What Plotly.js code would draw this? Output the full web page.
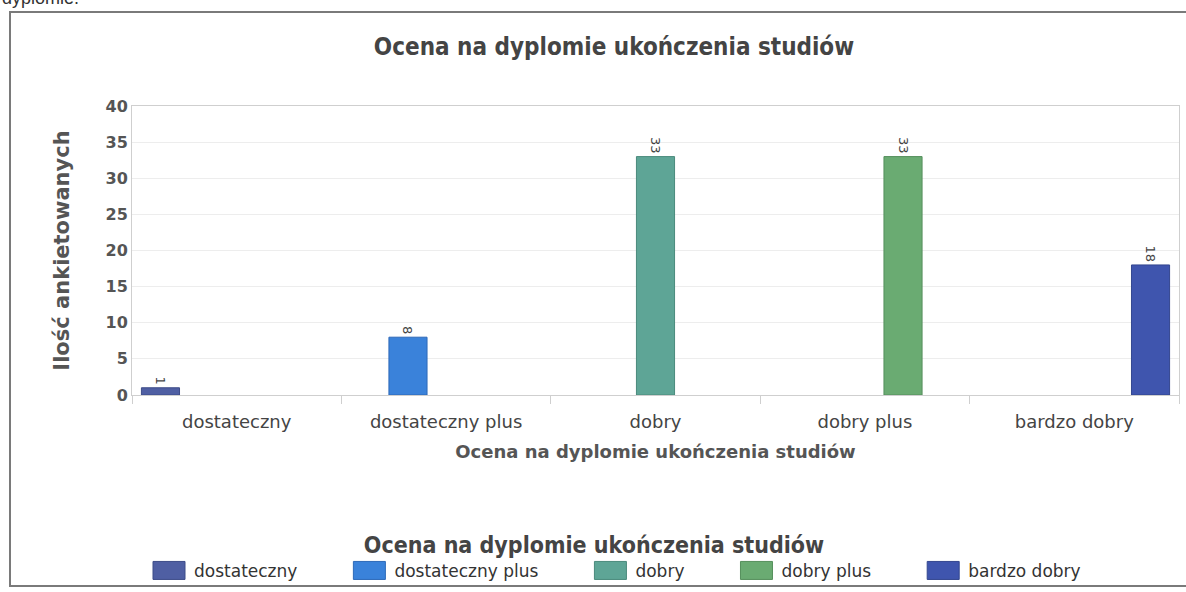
<!DOCTYPE html>
<html>
<head>
<meta charset="utf-8">
<script src="https://cdn.plot.ly/plotly-3.0.1.min.js"></script>
<style>
html,body{margin:0;padding:0;background:#fff;}
#chart{width:1186px;height:592px;}
</style>
</head>
<body>
<div id="chart"></div>
<script>
var categories = ["dostateczny", "dostateczny plus", "dobry", "dobry plus", "bardzo dobry"];
var seriesNames = ["dostateczny", "dostateczny plus", "dobry", "dobry plus", "bardzo dobry"];
var values = [1, 8, 33, 33, 18];
var colors = ["#4f5fa3", "#3a82da", "#5ea596", "#6aab72", "#3f55ae"];
var lineColors = ["#3d4c88", "#2d69b8", "#4a8a7c", "#558f5c", "#33468f"];
var chartTitle = "Ocena na dyplomie ukończenia studiów";
var xTitle = "Ocena na dyplomie ukończenia studiów";
var yTitle = "Ilość ankietowanych";
var legendTitle = "Ocena na dyplomie ukończenia studiów";
var yTicks = [0, 5, 10, 15, 20, 25, 30, 35, 40];

var W = 1186, H = 592;
var mL = 132, mR = 7, mT = 106, mB = 197;
var pw = W - mL - mR, ph = H - mT - mB;
function px(x){ return (x - mL) / pw; }
function py(y){ return (H - mB - y) / ph; }

var traces = seriesNames.map(function(name, i){
  return {
    type: "bar",
    name: name,
    x: categories,
    y: categories.map(function(c, j){ return j === i ? values[i] : null; }),
    text: categories.map(function(c, j){ return j === i ? String(values[i]) : ""; }),
    textposition: "outside",
    textangle: 90,
    textfont: {family: "DejaVu Sans", size: 13, color: "#444"},
    cliponaxis: false,
    marker: {color: colors[i], line: {color: lineColors[i], width: 1}},
    hoverinfo: "x+y+name"
  };
});

var layout = {
  width: W, height: H,
  margin: {l: mL, r: mR, t: mT, b: mB, autoexpand: false},
  paper_bgcolor: "#fff",
  plot_bgcolor: "#fff",
  barmode: "group",
  bargap: 0.09,
  bargroupgap: 0,
  title: {
    text: chartTitle,
    font: {family: "Liberation Sans Narrow, DejaVu Sans Condensed, Arial", size: 24, color: "#444", weight: "bold"},
    x: 614 / W, xanchor: "center",
    y: 1 - 47 / H, yanchor: "middle"
  },
  xaxis: {
    type: "category",
    tickson: "boundaries",
    ticks: "outside",
    ticklen: 8,
    tickcolor: "#cfcfcf",
    ticklabelstandoff: 10,
    showgrid: false,
    showline: true,
    linecolor: "#cfcfcf",
    linewidth: 1,
    mirror: true,
    tickfont: {family: "DejaVu Sans", size: 18, color: "#444"},
    title: {text: xTitle, font: {family: "DejaVu Sans", size: 18, color: "#555", weight: "bold"}, standoff: 14},
    automargin: false
  },
  yaxis: {
    range: [0, 40],
    tickvals: yTicks,
    ticktext: yTicks.map(String),
    showgrid: true,
    gridcolor: "#ededed",
    zeroline: false,
    showline: true,
    linecolor: "#cfcfcf",
    mirror: true,
    ticks: "",
    tickfont: {family: "DejaVu Sans", size: 16, color: "#555", weight: "bold"},
    title: {text: yTitle, font: {family: "DejaVu Sans", size: 21, color: "#555", weight: "bold"}, standoff: 30},
    automargin: false
  },
  showlegend: true,
  legend: {
    orientation: "h",
    x: px(594), xanchor: "center",
    y: py(588), yanchor: "bottom",
    bgcolor: "rgba(0,0,0,0)",
    font: {family: "DejaVu Sans", size: 17, color: "#333"},
    itemwidth: 82,
    tracegroupgap: 0,
    title: {
      text: legendTitle,
      side: "top center",
      font: {family: "Liberation Sans Narrow, DejaVu Sans Condensed, Arial", size: 23, color: "#444", weight: "bold"}
    }
  },
  shapes: [{
    type: "rect", xref: "paper", yref: "paper",
    x0: px(10), x1: px(1195), y0: py(586), y1: py(12),
    line: {color: "#7a7a7a", width: 2},
    fillcolor: "rgba(0,0,0,0)",
    layer: "below"
  }],
  annotations: [{
    text: "dyplomie.",
    xref: "paper", yref: "paper",
    x: px(0), xanchor: "left",
    y: py(10), yanchor: "bottom",
    showarrow: false,
    font: {family: "Liberation Sans, Arial", size: 18, color: "#333"}
  }]
};

Plotly.newPlot("chart", traces, layout, {displayModeBar: false, staticPlot: true}).then(function(gd){
  var pts = gd.querySelectorAll(".legend .legendpoints path");
  pts.forEach(function(p){ p.setAttribute("d", "M37,9H5V-9H37Z"); });
});
</script>
</body>
</html>
